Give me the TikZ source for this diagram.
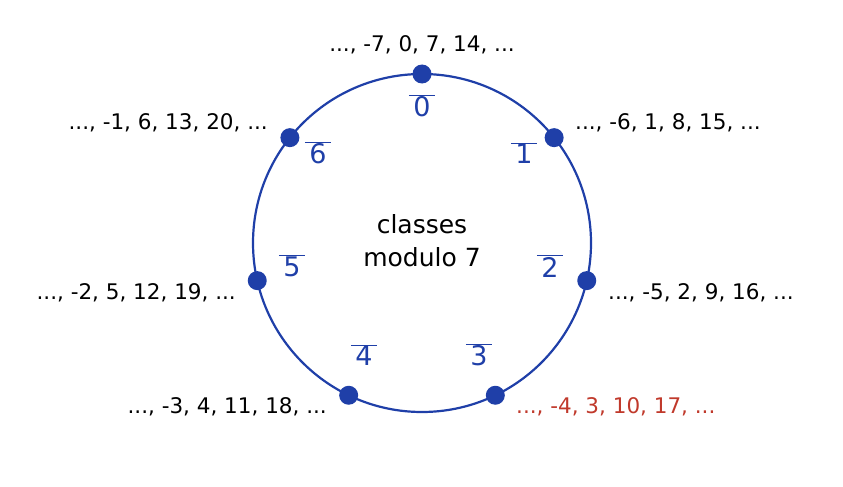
\documentclass[tikz,border=0pt]{standalone}
\usepackage{fontspec}
\setmainfont{DejaVu Sans}
\usetikzlibrary{calc}
\definecolor{clsblue}{RGB}{31,63,168}
\definecolor{clsred}{RGB}{192,57,43}
\tikzset{
  dot/.style={circle, fill=clsblue, inner sep=0pt, minimum size=19pt},
  cls/.style={text=clsblue, font=\fontsize{27}{30}\selectfont},
  members/.style={font=\fontsize{21.5}{24}\selectfont, inner sep=0pt}
}
\begin{document}
\begin{tikzpicture}[x=1pt, y=-1pt]
  \useasboundingbox (0,0) rectangle (843,487);
  \node (centre) at (422,243) {};
  \draw[clsblue, line width=2.2pt] (centre.center) circle (169);
  % points of the classes
  \foreach \k in {0,...,6}
    \node[dot] (p\k) at ($(422,243)+({\k*360/7-90}:169)$) {};
  % class names
  \node[cls] (c0) at (422,106) {$\overline{\hbox{\,0\,}}$};
  \node[cls] (c1) at (524,153) {$\overline{\hbox{\,1\,}}$};
  \node[cls] (c2) at (550,266) {$\overline{\hbox{\,2\,}}$};
  \node[cls] (c3) at (479,355) {$\overline{\hbox{\,3\,}}$};
  \node[cls] (c4) at (364,355) {$\overline{\hbox{\,4\,}}$};
  \node[cls] (c5) at (292,266) {$\overline{\hbox{\,5\,}}$};
  \node[cls] (c6) at (318,153) {$\overline{\hbox{\,6\,}}$};
  % members of each class
  \node[members] (m0) at (422,45) {..., -7, 0, 7, 14, ...};
  \node[members, anchor=west] (m1) at (575,123) {..., -6, 1, 8, 15, ...};
  \node[members, anchor=west] (m2) at (608,293) {..., -5, 2, 9, 16, ...};
  \node[members, anchor=west, text=clsred] (m3) at (516,407) {..., -4, 3, 10, 17, ...};
  \node[members, anchor=east] (m4) at (327,407) {..., -3, 4, 11, 18, ...};
  \node[members, anchor=east] (m5) at (236,293) {..., -2, 5, 12, 19, ...};
  \node[members, anchor=east] (m6) at (268,123) {..., -1, 6, 13, 20, ...};
  \node[font=\fontsize{25}{33}\selectfont, align=center] (title) at (422,241) {classes\\modulo 7};
\end{tikzpicture}
\end{document}
